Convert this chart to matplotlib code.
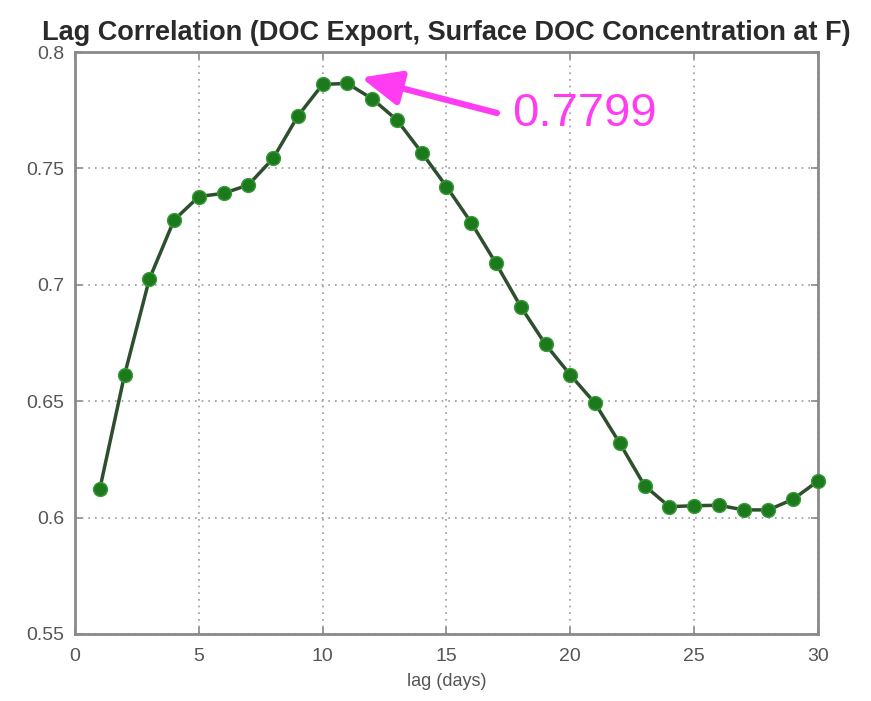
import matplotlib
matplotlib.use('Agg')
import matplotlib.pyplot as plt

# lag correlation between DOC export and surface DOC concentration at F
lag_days = list(range(1, 31))
corr = [0.6122, 0.6613, 0.7024, 0.7278, 0.7379, 0.7393, 0.7429, 0.7543,
        0.7725, 0.7861, 0.7865, 0.7799, 0.7708, 0.7568, 0.7422, 0.7267,
        0.7092, 0.6906, 0.6744, 0.6613, 0.6491, 0.6319, 0.6137, 0.6047,
        0.6051, 0.6053, 0.6033, 0.6033, 0.6079, 0.6157]

x_ticks = [0, 5, 10, 15, 20, 25, 30]
y_ticks = [0.55, 0.6, 0.65, 0.7, 0.75, 0.8]
y_tick_labels = ['0.55', '0.6', '0.65', '0.7', '0.75', '0.8']

note_lag = 12
note_value = corr[lag_days.index(note_lag)]

fam = ['Liberation Sans', 'DejaVu Sans']
grey = '#8a8a8a'
magenta = '#ff3cf2'

fig = plt.figure(figsize=(8.71, 7.01), dpi=100)
ax = fig.add_axes([0.0861, 0.0956, 0.853, 0.8302])

ax.plot(lag_days, corr, '-o', color='#2e4f2e', lw=2.5,
        markersize=10, markerfacecolor='#1c7a1c', markeredgecolor='#3a9a3a',
        markeredgewidth=1.0, zorder=3, clip_on=False)

ax.set_xlim(0, 30)
ax.set_ylim(0.55, 0.8)
ax.set_xticks(x_ticks)
ax.set_yticks(y_ticks)
ax.set_yticklabels(y_tick_labels)
ax.grid(True, linestyle=(0, (1, 3)), color='#999999', lw=1.2)
ax.tick_params(direction='in', length=5, width=1.2, colors=grey,
               labelcolor='#555555', labelsize=14, top=True, right=True)
ax.tick_params(axis='x', pad=10)
ax.tick_params(axis='y', pad=8)
for lbl in ax.get_xticklabels() + ax.get_yticklabels():
    lbl.set_family(fam)
for s in ax.spines.values():
    s.set_color(grey)
    s.set_linewidth(2)

ax.set_xlabel('lag (days)', fontsize=13, color='#555555', family=fam,
              labelpad=6)
ax.set_title('Lag Correlation (DOC Export, Surface DOC Concentration at F)',
             fontsize=19.5, fontweight='bold', color='#2a2a2a', family=fam,
             pad=9)

# arrow and value label for the peak region
ax.annotate('', xy=(11.55, 0.7890), xytext=(17.04, 0.7738),
            arrowprops=dict(arrowstyle='-|>,head_length=1.6,head_width=0.7',
                            mutation_scale=15, lw=4.5, color=magenta,
                            shrinkA=0, shrinkB=0), zorder=4)
ax.text(17.64, 0.7734, '%.4f' % note_value, fontsize=34, color=magenta,
        family=fam, va='center', ha='left', zorder=4)

fig.savefig('out.png', dpi=100)
